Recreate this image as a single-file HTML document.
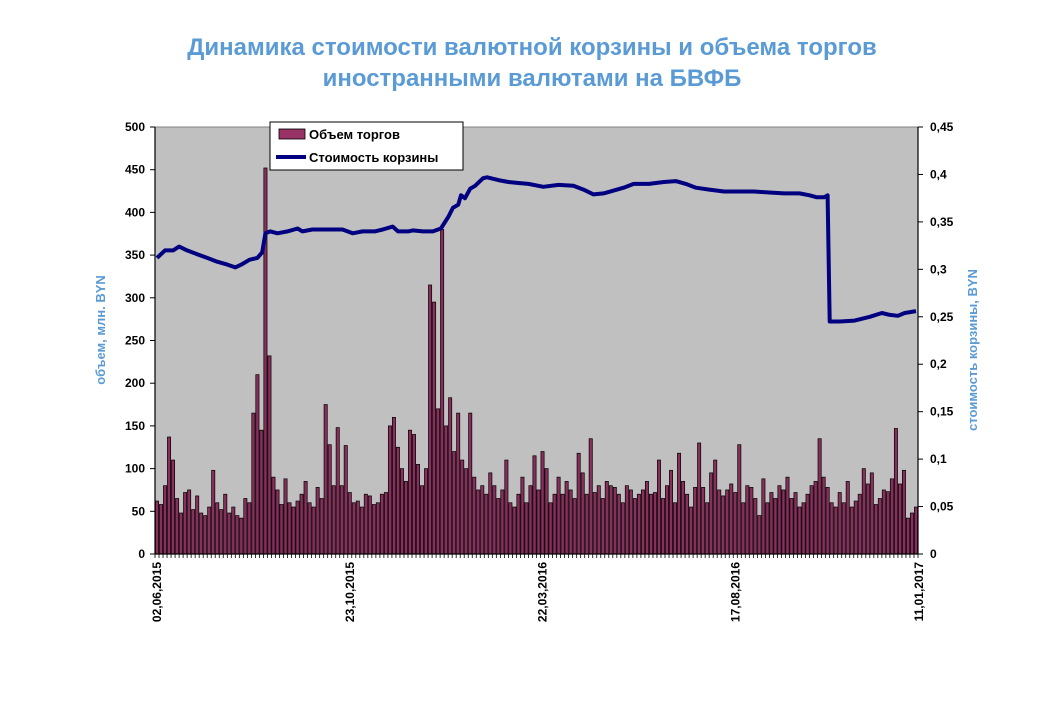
<!DOCTYPE html>
<html><head><meta charset="utf-8"><style>
body{margin:0;background:#fff;}
svg text{font-family:"Liberation Sans",sans-serif;}
</style></head><body>
<svg id="chart" width="1058" height="705" xmlns="http://www.w3.org/2000/svg">
<text x="532" y="55" text-anchor="middle" font-size="24" font-weight="bold" fill="#5B9BD5">Динамика стоимости валютной корзины и объема торгов</text>
<text x="532" y="86" text-anchor="middle" font-size="24" font-weight="bold" fill="#5B9BD5">иностранными валютами на БВФБ</text>
<rect x="155" y="127" width="763" height="427" fill="#C0C0C0" stroke="#808080" stroke-width="1"/>
<g id="bars"></g>
<g id="xticks"></g>
<path id="line" fill="none" stroke="#000080" stroke-width="4" stroke-linejoin="round"/>
<g id="laxis"></g>
<g id="raxis"></g>
<g id="xlabels"></g>
<text transform="translate(105,330) rotate(-90)" text-anchor="middle" font-size="13" font-weight="bold" fill="#5B9BD5">объем, млн. BYN</text>
<text transform="translate(977,350) rotate(-90)" text-anchor="middle" font-size="13" font-weight="bold" fill="#5B9BD5">стоимость корзины, BYN</text>
<g>
<rect x="270" y="122" width="193" height="48" fill="#fff" stroke="#000" stroke-width="1"/>
<rect x="279" y="129" width="26" height="10" fill="#993366" stroke="#000" stroke-width="0.8"/>
<text x="309" y="139" font-size="13" font-weight="bold">Объем торгов</text>
<line x1="276" y1="157" x2="306" y2="157" stroke="#000080" stroke-width="4"/>
<text x="309" y="162" font-size="13" font-weight="bold">Стоимость  корзины</text>
</g>
</svg>
<script>
const volumes=[62,58,80,137,110,65,48,72,75,52,68,48,45,55,98,60,52,70,48,55,45,42,65,60,
165,210,145,452,232,90,
75,58,88,60,55,62,70,85,60,55,78,65,
175,128,80,148,80,127,
72,60,62,55,70,68,58,60,70,72,
150,160,125,100,85,145,140,105,
80,100,315,295,170,380,150,183,120,165,110,100,165,90,
75,80,70,95,80,65,75,110,60,55,70,90,60,80,115,75,120,100,60,70,90,
70,85,75,65,118,95,70,135,72,80,65,85,80,78,70,60,80,75,65,70,
75,85,70,72,110,65,80,98,60,118,85,70,55,78,130,78,60,95,110,75,
68,75,82,72,128,60,80,78,65,45,88,60,72,65,80,75,90,65,72,55,
60,70,80,85,135,90,78,60,55,72,60,85,55,62,70,
100,82,95,58,65,75,73,88,147,82,98,42,48,55];
const lineDay=[0,2,4,5.5,7.5,10,12.5,15,17.5,19.5,21,23,25,26.2,27,28.2,30,32.5,35,36.2,38.7,41.2,43.7,46.2,48.7,51.2,54.2,56.2,58.7,60,62.5,63.7,66.2,68.7,70.7,72.5,73.7,75,75.7,76.7,78,79.2,81.2,82.2,85,87.5,90,92.5,96.2,100,103.7,106.2,108.7,111.2,113.7,116.2,118.7,122.5,126.2,129.2,131.7,134.2,137.5,141.2,145,148.7,152.5,156.2,160,162.5,164.2,166.2,167,167.5,170,173.7,177.5,180.5,182.5,184.5,186.2,189];
const lineVals=[0.312,0.320,0.320,0.324,0.320,0.316,0.312,0.308,0.305,0.302,0.305,0.310,0.312,0.318,0.338,0.340,0.338,0.340,0.343,0.340,0.342,0.342,0.342,0.342,0.338,0.340,0.340,0.342,0.345,0.340,0.340,0.341,0.340,0.340,0.343,0.355,0.365,0.368,0.378,0.375,0.385,0.388,0.396,0.397,0.394,0.392,0.391,0.390,0.387,0.389,0.388,0.384,0.379,0.380,0.383,0.386,0.390,0.390,0.392,0.393,0.390,0.386,0.384,0.382,0.382,0.382,0.381,0.380,0.380,0.378,0.376,0.376,0.378,0.245,0.245,0.246,0.250,0.254,0.252,0.251,0.254,0.256];
const leftTicks=[0,50,100,150,200,250,300,350,400,450,500];
const rightTicks=[0,0.05,0.1,0.15,0.2,0.25,0.3,0.35,0.4,0.45];
const xLabelIdx=[0,48,96,144,189];
const xLabels=["02,06,2015","23,10,2015","22,03,2016","17,08,2016","11,01,2017"];
const NS="http://www.w3.org/2000/svg";
const X0=155,X1=918,Y0=554,Y1=127;
const N=volumes.length,step=(X1-X0)/N;
const xs=i=>X0+step*(i+0.5);
const yL=v=>Y0-(v/500)*(Y0-Y1);
const yR=v=>Y0-(v/0.45)*(Y0-Y1);
function mk(t,a){const e=document.createElementNS(NS,t);for(const k in a)e.setAttribute(k,a[k]);return e;}
const bars=document.getElementById('bars');
volumes.forEach((v,i)=>{const r=mk('rect',{x:(xs(i)-step*0.4).toFixed(2),y:yL(v).toFixed(2),width:(step*0.8).toFixed(2),height:(Y0-yL(v)).toFixed(2),fill:'#8a2e5c',stroke:'#000','stroke-width':0.7});


bars.appendChild(r);});
const xt=document.getElementById('xticks');
for(let i=0;i<=N;i++){const l=mk('line',{x1:X0+step*i,x2:X0+step*i,y1:Y0,y2:Y0+4,stroke:'#000','stroke-width':0.8});


xt.appendChild(l);}
xt.appendChild(mk('line',{x1:X0,x2:X1,y1:Y0,y2:Y0,stroke:'#000','stroke-width':1.2}));
document.getElementById('line').setAttribute('d',lineDay.map((d,i)=>(i?'L':'M')+xs(d).toFixed(1)+' '+yR(lineVals[i]).toFixed(1)).join(' '));
const la=document.getElementById('laxis');
la.appendChild(mk('line',{x1:X0,x2:X0,y1:Y1,y2:Y0,stroke:'#000','stroke-width':1.2}));
leftTicks.forEach(v=>{la.appendChild(mk('line',{x1:X0-5,x2:X0,y1:yL(v),y2:yL(v),stroke:'#000'}));
const t=mk('text',{x:X0-10,y:yL(v)+4,'text-anchor':'end','font-size':12,'font-weight':'bold'});t.textContent=v;


la.appendChild(t);});
const ra=document.getElementById('raxis');
ra.appendChild(mk('line',{x1:X1,x2:X1,y1:Y1,y2:Y0,stroke:'#000','stroke-width':1.2}));
rightTicks.forEach(v=>{ra.appendChild(mk('line',{x1:X1,x2:X1+5,y1:yR(v),y2:yR(v),stroke:'#000'}));
const t=mk('text',{x:X1+12,y:yR(v)+4,'font-size':12,'font-weight':'bold'});t.textContent=String(+v.toFixed(2)).replace('.',',');


ra.appendChild(t);});
const xl=document.getElementById('xlabels');
xLabelIdx.forEach((d,i)=>{const x=i==xLabelIdx.length-1?X1:xs(d)-step/2+1;const t=mk('text',{transform:`translate(${x+5},562) rotate(-90)`,'text-anchor':'end','font-size':12,'font-weight':'bold'});t.textContent=xLabels[i];


xl.appendChild(t);});
</script>
</body></html>
